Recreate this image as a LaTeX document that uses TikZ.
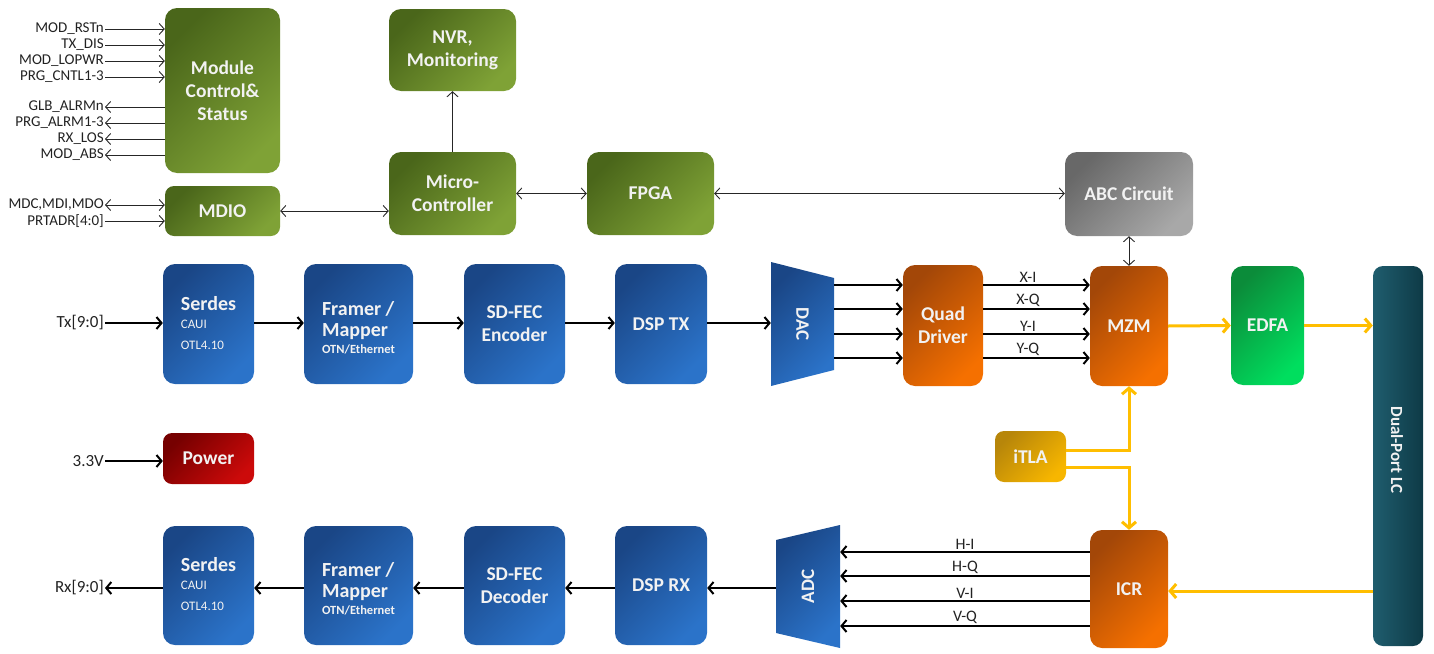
\documentclass[tikz,border=0pt]{standalone}
\usepackage{fontspec}
\setmainfont{Carlito}
\usetikzlibrary{arrows.meta}
\definecolor{gD}{HTML}{4A661A}
\definecolor{gL}{HTML}{7FA236}
\definecolor{bD}{HTML}{1A4686}
\definecolor{bL}{HTML}{2B73C9}
\definecolor{oD}{HTML}{A34708}
\definecolor{oL}{HTML}{F57000}
\definecolor{eD}{HTML}{0B8C3A}
\definecolor{eL}{HTML}{00DE5E}
\definecolor{aD}{HTML}{686868}
\definecolor{aL}{HTML}{A8A8A8}
\definecolor{pD}{HTML}{760000}
\definecolor{pL}{HTML}{CC0A0A}
\definecolor{iD}{HTML}{B7860A}
\definecolor{iL}{HTML}{F7B600}
\definecolor{lD}{HTML}{0E3A46}
\definecolor{lL}{HTML}{1F5D6E}
\definecolor{ylw}{HTML}{FFBE00}
\definecolor{txt}{HTML}{222222}
\newcommand{\serdestext}{\begin{tabular}{@{}l@{}}\rule{0pt}{18pt}\fontsize{20}{20}\selectfont Serdes\\[-5pt]\fontsize{13}{18}\selectfont\mdseries CAUI\\[-2pt]\fontsize{13}{18}\selectfont\mdseries OTL4.10\end{tabular}}
\newcommand{\framertext}{\begin{tabular}{@{}l@{}}\rule{0pt}{27pt}\fontsize{20}{23}\selectfont Framer /\\[-2pt]\fontsize{20}{20}\selectfont Mapper\\[-6pt]\fontsize{12.5}{14}\selectfont OTN/Ethernet\end{tabular}}
\begin{document}
\begin{tikzpicture}[x=1pt,y=-1pt,
  box/.style={rounded corners=12pt, inner sep=0pt, text=white!95!black,
    font=\fontsize{19.5}{23}\selectfont\bfseries, align=center},
  gbox/.style={box, top color=gD, bottom color=gL, shading angle=45},
  bbox/.style={box, top color=bD, bottom color=bL, shading angle=45},
  obox/.style={box, top color=oD, bottom color=oL, shading angle=45},
  ebox/.style={box, top color=eD, bottom color=eL, shading angle=45},
  abox/.style={box, top color=aD, bottom color=aL, shading angle=45},
  pbox/.style={box, top color=pD, bottom color=pL, shading angle=45, rounded corners=9pt},
  ibox/.style={box, top color=iD, bottom color=iL, shading angle=45, rounded corners=9pt},
  lbox/.style={box, left color=lL, right color=lD, rounded corners=10pt},
  sig/.style={font=\fontsize{15}{16}\selectfont, text=txt, inner sep=1pt},
  big/.style={font=\fontsize{17}{18}\selectfont},
  lab/.style={font=\fontsize{16}{16}\selectfont, text=txt, inner sep=1.5pt, above},
  tarr/.style={draw=black!85, line width=0.9pt, -{Straight Barb[length=5pt,width=11pt]}},
  tlarr/.style={draw=black!85, line width=0.9pt, {Straight Barb[length=5pt,width=11pt]}-},
  tdbl/.style={draw=black!85, line width=0.9pt, {Straight Barb[length=5pt,width=11pt]}-{Straight Barb[length=5pt,width=11pt]}},
  darr/.style={draw=black, line width=2pt, -{Straight Barb[length=5pt,width=12pt]}},
  yarr/.style={draw=ylw, line width=3pt, -{Straight Barb[length=6pt,width=14pt]}}
]
\useasboundingbox (0,0) rectangle (1434,653);

% ---------- control section ----------
\node[gbox, minimum width=115pt, minimum height=165pt] (mod) at (222.5,90.5) {Module\\Control\&\\Status};
\node[gbox, minimum width=115pt, minimum height=50pt, rounded corners=9pt] (mdio) at (222.5,211) {MDIO};
\node[gbox, minimum width=127pt, minimum height=82pt] (nvr) at (452.5,50) {NVR,\\Monitoring};
\node[gbox, minimum width=127pt, minimum height=83pt] (mcu) at (452.5,193.5) {Micro-\\Controller};
\node[gbox, minimum width=127pt, minimum height=83pt] (fpga) at (650.5,193.5) {FPGA};
\node[abox, minimum width=128pt, minimum height=84pt] (abc) at (1129,194) {ABC Circuit};

% signals
\node[sig, anchor=east] (s1) at (105,29) {MOD\_RSTn};
\node[sig, anchor=east] (s2) at (105,45) {TX\_DIS};
\node[sig, anchor=east] (s3) at (105,61) {MOD\_LOPWR};
\node[sig, anchor=east] (s4) at (105,77) {PRG\_CNTL1-3};
\node[sig, anchor=east] (s5) at (105,107) {GLB\_ALRMn};
\node[sig, anchor=east] (s6) at (105,123) {PRG\_ALRM1-3};
\node[sig, anchor=east] (s7) at (105,139) {RX\_LOS};
\node[sig, anchor=east] (s8) at (105,155) {MOD\_ABS};
\node[sig, anchor=east] (s9) at (105,205) {MDC,MDI,MDO};
\node[sig, anchor=east] (s10) at (105,221) {PRTADR[4:0]};
\foreach \s in {s1,s2,s3,s4} \draw[tarr] (\s.east) -- (mod.west |- \s.east);
\foreach \s in {s5,s6,s7,s8} \draw[tlarr] (\s.east) -- (mod.west |- \s.east);
\draw[tdbl] (s9.east) -- (mdio.west |- s9.east);
\draw[tarr] (s10.east) -- (mdio.west |- s10.east);

\draw[tdbl] (mdio.east) -- (mcu.west |- mdio.east);
\draw[tarr] (mcu.north) -- (nvr.south);
\draw[tdbl] (mcu.east) -- (fpga.west);
\draw[tdbl] (fpga.east) -- (abc.west |- fpga.east);

% ---------- Tx row ----------
\node[bbox, minimum width=91pt, minimum height=120pt] (sertx) at (208.5,324) {\serdestext};
\node[bbox, minimum width=109pt, minimum height=120pt] (frmtx) at (358.5,324) {\framertext};
\node[bbox, minimum width=101pt, minimum height=120pt] (fectx) at (514.5,324) {SD-FEC\\Encoder};
\node[bbox, minimum width=92pt, minimum height=120pt] (dsptx) at (661,324) {DSP TX};

\node[minimum width=63pt, minimum height=124pt, inner sep=0pt] (dac) at (802.5,324) {};
\shade[top color=bD, bottom color=bL, shading angle=45] (771,262) -- (834,278) -- (834,370) -- (771,386) -- cycle;
\node[rotate=-90, text=white!95!black, font=\fontsize{19}{20}\selectfont\bfseries] (dact) at (802.5,324) {DAC};

\node[obox, minimum width=80pt, minimum height=121pt] (quad) at (943,325.5) {Quad\\Driver};
\node[obox, minimum width=78pt, minimum height=120pt] (mzm) at (1129,326) {MZM};
\node[ebox, minimum width=73pt, minimum height=119pt] (edfa) at (1267.5,325.5) {EDFA};
\node[lbox, minimum width=50pt, minimum height=380pt] (lc) at (1398,456) {};
\node[rotate=-90, text=white!95!black, font=\fontsize{17}{18}\selectfont\bfseries] (lct) at (1397,450) {Dual-Port LC};

\node[sig, big, anchor=east] (tx) at (105,323) {Tx[9:0]};
\draw[darr] (tx.east) -- (sertx.west |- tx.east);
\draw[darr] (sertx.east |- 0,323) -- (frmtx.west |- 0,323);
\draw[darr] (frmtx.east |- 0,323) -- (fectx.west |- 0,323);
\draw[darr] (fectx.east |- 0,323) -- (dsptx.west |- 0,323);
\draw[darr] (dsptx.east |- 0,323) -- (dac.west |- 0,323);
\foreach \y in {285,309,334,358} \draw[darr] (dac.east |- 0,\y) -- (quad.west |- 0,\y);
\draw[darr] (quad.east |- 0,285) -- node[lab, pos=0.42] {X-I} (mzm.west |- 0,285);
\draw[darr] (quad.east |- 0,309) -- node[lab, pos=0.42] {X-Q} (mzm.west |- 0,309);
\draw[darr] (quad.east |- 0,334) -- node[lab, pos=0.42] {Y-I} (mzm.west |- 0,334);
\draw[darr] (quad.east |- 0,358) -- node[lab, pos=0.42] {Y-Q} (mzm.west |- 0,358);
\draw[tdbl] (abc.south) -- (mzm.north);
\draw[yarr] (mzm.east) -- (edfa.west);
\draw[yarr] (edfa.east) -- (lc.west |- edfa.east);

% ---------- power / laser ----------
\node[pbox, minimum width=91pt, minimum height=51pt] (pwr) at (208.5,458.5) {Power};
\node[sig, big, anchor=east] (v33) at (105,461) {3.3V};
\draw[darr] (v33.east) -- (pwr.west |- v33.east);
\node[ibox, minimum width=71pt, minimum height=51pt] (itla) at (1030.5,456.5) {iTLA};

% ---------- Rx row ----------
\node[bbox, minimum width=91pt, minimum height=119pt] (serrx) at (208.5,585.5) {\serdestext};
\node[bbox, minimum width=109pt, minimum height=119pt] (frmrx) at (358.5,585.5) {\framertext};
\node[bbox, minimum width=101pt, minimum height=119pt] (fecrx) at (514.5,585.5) {SD-FEC\\Decoder};
\node[bbox, minimum width=92pt, minimum height=119pt] (dsprx) at (661,585.5) {DSP RX};

\node[minimum width=64pt, minimum height=123pt, inner sep=0pt] (adc) at (808,586.5) {};
\shade[top color=bD, bottom color=bL, shading angle=45] (776,540) -- (840,525) -- (840,648) -- (776,633) -- cycle;
\node[rotate=90, text=white!95!black, font=\fontsize{19}{20}\selectfont\bfseries] (adct) at (808,586.5) {ADC};

\node[obox, minimum width=78pt, minimum height=118pt] (icr) at (1129,589) {ICR};

\draw[darr] (icr.west |- 0,552) -- node[lab] {H-I} (adc.east |- 0,552);
\draw[darr] (icr.west |- 0,576) -- node[lab] {H-Q} (adc.east |- 0,576);
\draw[darr] (icr.west |- 0,601) -- node[lab] {V-I} (adc.east |- 0,601);
\draw[darr] (icr.west |- 0,626) -- node[lab] {V-Q} (adc.east |- 0,626);
\draw[darr] (adc.west |- 0,588) -- (dsprx.east |- 0,588);
\draw[darr] (dsprx.west |- 0,588) -- (fecrx.east |- 0,588);
\draw[darr] (fecrx.west |- 0,588) -- (frmrx.east |- 0,588);
\draw[darr] (frmrx.west |- 0,588) -- (serrx.east |- 0,588);
\node[sig, big, anchor=east] (rx) at (105,588) {Rx[9:0]};
\draw[darr] (serrx.west |- rx.east) -- (rx.east);

\draw[yarr] (lc.west |- 0,591) -- (icr.east |- 0,591);
\draw[yarr] (itla.east |- 0,450) -| (mzm.south);
\draw[yarr] (itla.east |- 0,467) -| (icr.north);
\end{tikzpicture}
\end{document}
